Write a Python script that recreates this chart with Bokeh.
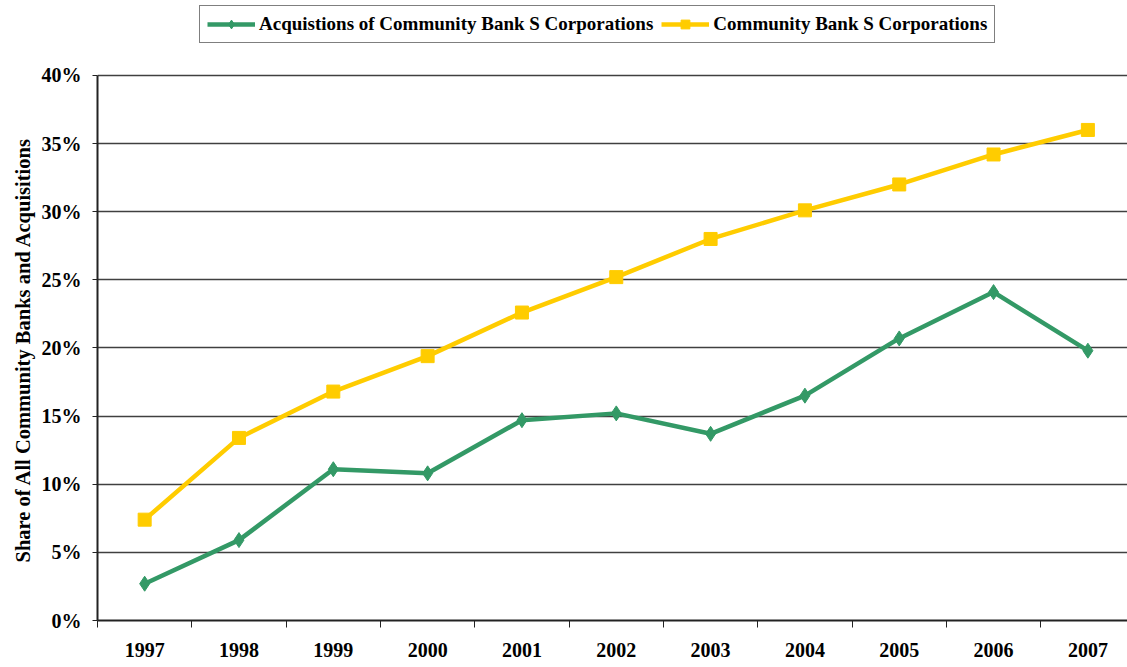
from bokeh.plotting import figure
from bokeh.models import (Range1d, FixedTicker, NumeralTickFormatter, Legend, LegendItem, Title)
from bokeh.embed import file_html
from bokeh.resources import INLINE

years = [1997, 1998, 1999, 2000, 2001, 2002, 2003, 2004, 2005, 2006, 2007]
acquisitions = [2.7, 5.9, 11.1, 10.8, 14.7, 15.2, 13.7, 16.5, 20.7, 24.1, 19.8]
s_corps = [7.4, 13.4, 16.8, 19.4, 22.6, 25.2, 28.0, 30.1, 32.0, 34.2, 36.0]
acq_label = "Acquistions of Community Bank S Corporations"
scorp_label = "Community Bank S Corporations"
y_title = "Share of All Community Banks and Acquisitions"
y_ticks = [0.0, 0.05, 0.10, 0.15, 0.20, 0.25, 0.30, 0.35, 0.40]

acq_frac = [v / 100 for v in acquisitions]
scorp_frac = [v / 100 for v in s_corps]

FONT = "Liberation Serif"
GREEN = "#339966"
YELLOW = "#FFCC00"

# frame spans from the top of the canvas (room for legend) down to the 0% line
p = figure(width=1127, height=667, output_backend="svg", toolbar_location=None,
           x_range=Range1d(1996.5, 2007.42), y_range=Range1d(0, 0.455),
           min_border_left=97, min_border_right=0, min_border_top=0, min_border_bottom=47)
p.outline_line_color = None
p.background_fill_color = "white"
p.border_fill_color = "white"

# y axis
p.yaxis.ticker = FixedTicker(ticks=y_ticks)
p.yaxis.bounds = (0, 0.40)
p.yaxis.formatter = NumeralTickFormatter(format="0%")
p.yaxis.major_label_text_font = FONT
p.yaxis.major_label_text_font_style = "bold"
p.yaxis.major_label_text_font_size = "20px"
p.yaxis.major_label_text_color = "black"
p.yaxis.major_tick_in = 0
p.yaxis.major_tick_out = 5
p.yaxis.minor_tick_line_color = None
p.yaxis.major_tick_line_color = "#222222"
p.yaxis.axis_line_color = "#222222"
p.yaxis.axis_line_width = 2
p.yaxis.major_label_standoff = 11

# y axis title, placed along the 0-40% span
ytitle = Title(text=y_title, align="left", offset=58, standoff=9,
               text_font=FONT, text_font_style="bold", text_font_size="20.5px",
               text_color="black")
p.add_layout(ytitle, "left")

# x axis
p.xaxis.ticker = FixedTicker(ticks=years, minor_ticks=[y - 0.5 for y in years] + [years[-1] + 0.5])
p.xaxis.major_tick_line_color = None
p.xaxis.major_tick_in = 0
p.xaxis.major_tick_out = 0
p.xaxis.minor_tick_in = 0
p.xaxis.minor_tick_out = 7
p.xaxis.minor_tick_line_color = "#222222"
p.xaxis.axis_line_color = "#222222"
p.xaxis.axis_line_width = 2
p.xaxis.major_label_text_font = FONT
p.xaxis.major_label_text_font_style = "bold"
p.xaxis.major_label_text_font_size = "20px"
p.xaxis.major_label_text_color = "black"
p.xaxis.major_label_standoff = 15

p.xgrid.grid_line_color = None
p.ygrid.ticker = FixedTicker(ticks=y_ticks)
p.ygrid.grid_line_color = "#404040"
p.ygrid.grid_line_width = 1.3

l1 = p.line(years, acq_frac, line_color=GREEN, line_width=4.5)
m1 = p.scatter(years, acq_frac, marker="diamond", size=15, fill_color=GREEN, line_color=GREEN)
l2 = p.line(years, scorp_frac, line_color=YELLOW, line_width=4.5)
m2 = p.scatter(years, scorp_frac, marker="square", size=13, fill_color=YELLOW, line_color=YELLOW)

legend = Legend(items=[LegendItem(label=acq_label, renderers=[l1, m1]),
                       LegendItem(label=scorp_label, renderers=[l2, m2])],
                orientation="horizontal", location=(102, 577),
                label_text_font=FONT, label_text_font_style="bold",
                label_text_font_size="19px", label_text_color="black",
                glyph_width=48, glyph_height=22, label_standoff=4, spacing=8,
                padding=7, margin=0,
                border_line_color="black", border_line_width=1,
                background_fill_color="white", background_fill_alpha=1)
p.add_layout(legend, "center")

open("out.html", "w").write(file_html(p, INLINE))
